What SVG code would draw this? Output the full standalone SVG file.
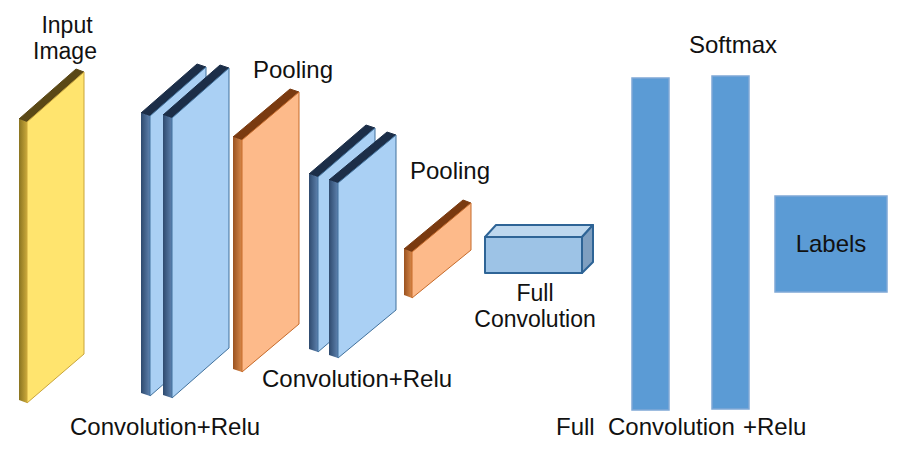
<svg xmlns="http://www.w3.org/2000/svg" width="906" height="452" viewBox="0 0 906 452">
<defs>
<linearGradient id="gY" x1="0" y1="0" x2="1" y2="0"><stop offset="0" stop-color="#8A7420"/><stop offset="1" stop-color="#C9A83A"/></linearGradient>
<linearGradient id="gB" x1="0" y1="0" x2="1" y2="0"><stop offset="0" stop-color="#2E4A6E"/><stop offset="1" stop-color="#5E82AE"/></linearGradient>
<linearGradient id="gO" x1="0" y1="0" x2="1" y2="0"><stop offset="0" stop-color="#9A5220"/><stop offset="1" stop-color="#D7884A"/></linearGradient>
</defs>
<style>
text{font-family:"Liberation Sans",Arial,sans-serif;font-size:24px;fill:#111;}
.two{font-size:23px}
.fy{fill:#FFE46E;stroke:#C9A53A;stroke-width:1}
.sy{fill:url(#gY)}
.ty{fill:#5A4816;stroke:#5A4816;stroke-width:1;stroke-linejoin:round}
.fb{fill:#AAD0F4;stroke:#41719C;stroke-width:1}
.sb{fill:url(#gB)}
.tb{fill:#1C2E48;stroke:#1C2E48;stroke-width:1;stroke-linejoin:round}
.fo{fill:#FDBA8A;stroke:#C56A2A;stroke-width:1}
.so{fill:url(#gO)}
.to{fill:#7A3A10;stroke:#7A3A10;stroke-width:1;stroke-linejoin:round}
.bar{fill:#5B9BD5;stroke:#7FA8D6;stroke-width:1.5}
.box{stroke:#2E6496;stroke-width:2;stroke-linejoin:round}
</style>
<rect width="906" height="452" fill="#fff"/>
<g id="input-image">
<polygon class="ty" points="27,122 84,72 76,69 19,119"/>
<polygon class="sy" points="27,122 19,119 19,400 27,403"/>
<polygon class="fy" points="27,122 84,72 84,354 27,403"/>
<text class="two" x="67" y="33" text-anchor="middle">Input</text>
<text class="two" x="65" y="59" text-anchor="middle">Image</text>
</g>
<g id="conv1">
<polygon class="tb" points="150,116 206,67 197,64 141,113"/>
<polygon class="sb" points="150,116 141,113 141,393 150,396"/>
<polygon class="fb" points="150,116 206,67 206,347 150,396"/>
<polygon class="tb" points="172,118 229,68 220,65 163,115"/>
<polygon class="sb" points="172,118 163,115 163,395 172,398"/>
<polygon class="fb" points="172,118 229,68 229,348 172,398"/>
<text x="70" y="435">Convolution+Relu</text>
</g>
<g id="pool1">
<polygon class="to" points="242,140 299,92 290,89 233,137"/>
<polygon class="so" points="242,140 233,137 233,369 242,372"/>
<polygon class="fo" points="242,140 299,92 299,324 242,372"/>
<text x="253" y="78">Pooling</text>
</g>
<g id="conv2">
<polygon class="tb" points="318,177 375,128 366,125 309,174"/>
<polygon class="sb" points="318,177 309,174 309,349 318,352"/>
<polygon class="fb" points="318,177 375,128 375,303 318,352"/>
<polygon class="tb" points="338,183 396,135 387,132 329,180"/>
<polygon class="sb" points="338,183 329,180 329,355 338,358"/>
<polygon class="fb" points="338,183 396,135 396,310 338,358"/>
<text x="262" y="387">Convolution+Relu</text>
</g>
<g id="pool2">
<polygon class="to" points="412,252 471,203 463,200 404,249"/>
<polygon class="so" points="412,252 404,249 404,295 412,298"/>
<polygon class="fo" points="412,252 471,203 471,250 412,298"/>
<text x="410" y="179">Pooling</text>
</g>
<g id="full-conv">
<polygon class="box" fill="#BDD7EE" points="485,237 496,225 593,225 582,237"/>
<polygon class="box" fill="#7F9FC0" points="582,237 593,225 593,262 582,273"/>
<rect class="box" fill="#9DC3E6" x="485" y="237" width="97" height="36"/>
<text class="two" x="535" y="301" text-anchor="middle">Full</text>
<text class="two" x="535" y="327" text-anchor="middle">Convolution</text>
</g>
<g id="fc1">
<rect class="bar" x="632" y="78" width="37" height="332"/>
</g>
<g id="fc2">
<rect class="bar" x="712" y="76" width="37" height="333"/>
<text x="733" y="53" text-anchor="middle">Softmax</text>
</g>
<g id="fc-label">
<text y="435"><tspan x="556">Full</tspan><tspan x="608">Convolution</tspan><tspan x="743">+Relu</tspan></text>
</g>
<g id="labels">
<rect class="bar" x="775" y="196" width="112" height="96"/>
<text x="831" y="252" text-anchor="middle">Labels</text>
</g>
<g id="connectors"/>
</svg>
